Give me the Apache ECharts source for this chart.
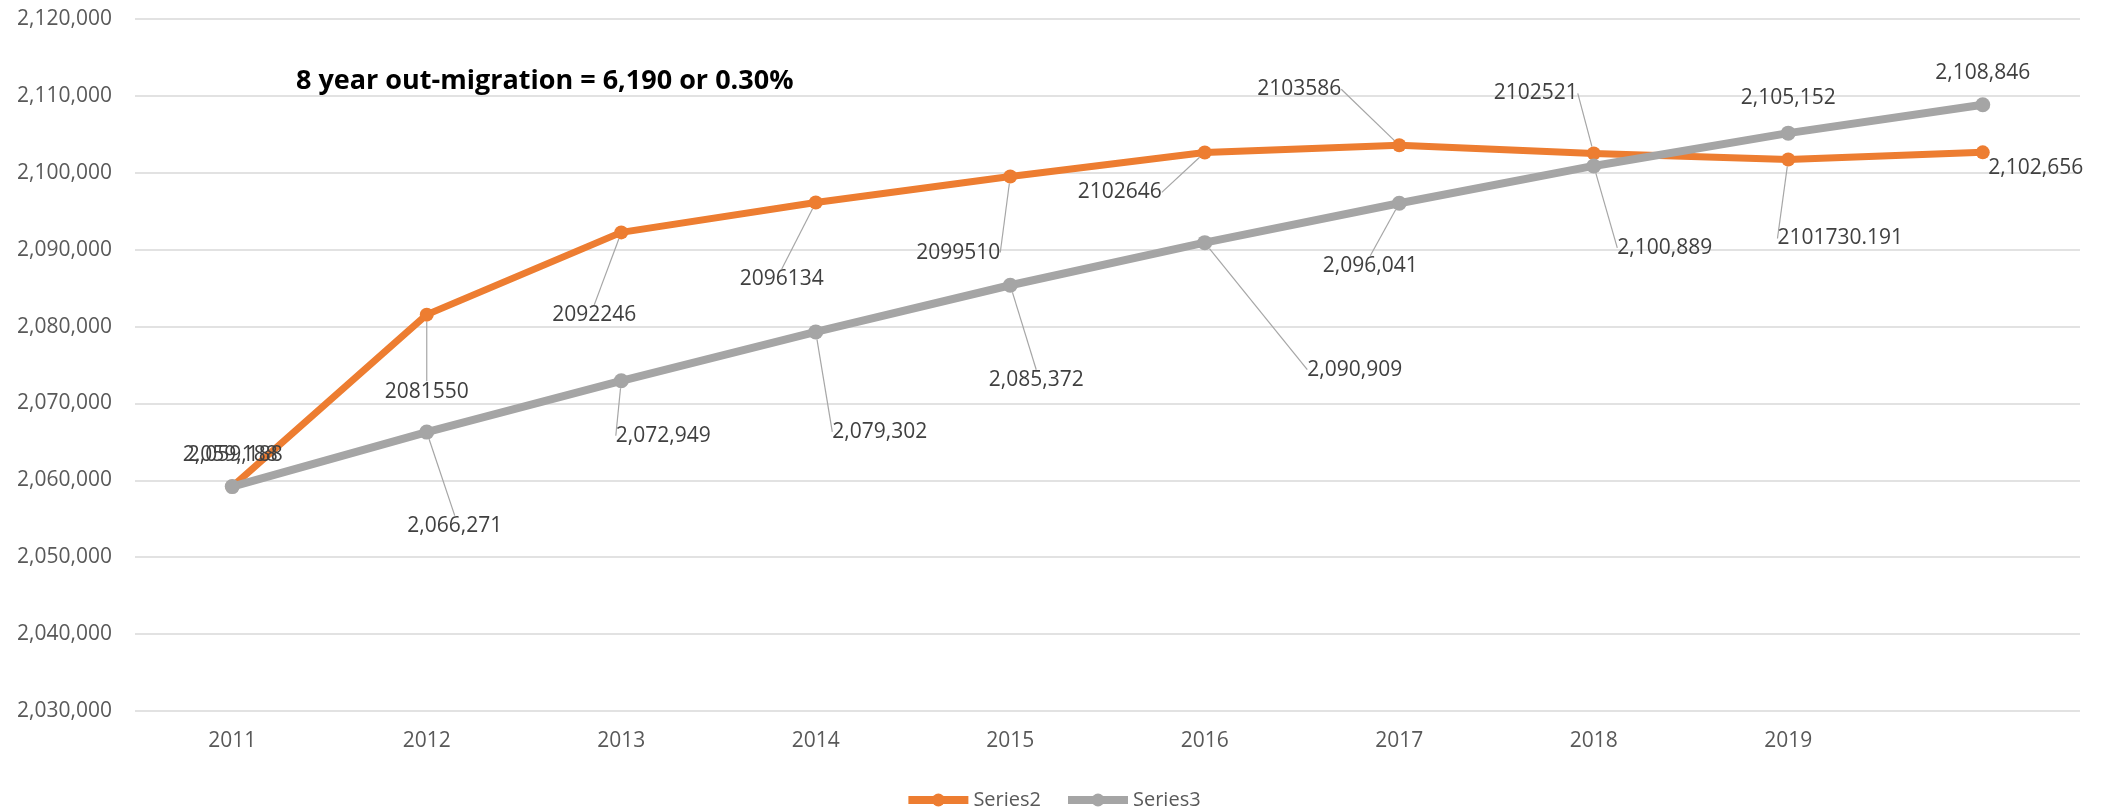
<!DOCTYPE html>
<html>
<head>
<meta charset="utf-8">
<script src="https://cdn.jsdelivr.net/npm/echarts@6/dist/echarts.min.js"></script>
<style>
html,body{margin:0;padding:0;background:#fff;}
#chart{width:2105px;height:808px;}
</style>
</head>
<body>
<div id="chart"></div>
<script>
var categories = ['2011','2012','2013','2014','2015','2016','2017','2018','2019',''];
var series2 = [2059188, 2081550, 2092246, 2096134, 2099510, 2102646, 2103586, 2102521, 2101730.191, 2102656];
var series3 = [2059188, 2066271, 2072949, 2079302, 2085372, 2090909, 2096041, 2100889, 2105152, 2108846];
var series2CommaLabel = [true, false, false, false, false, false, false, false, false, true];
var yTickMin = 2030000, yTickMax = 2120000, yTickStep = 10000;
var annotation = '8 year out-migration = 6,190 or 0.30%';

// label offsets (label centre relative to data point), style only
var s2Offsets = [[-2,-32],[0,77],[-27,83],[-34,77],[-52,76],[-85,40],[-100,-56],[-58,-60],[52,79],[53,16]];
var s3Offsets = [[3,-32],[28,94],[42,55],[64,100],[26,95],[150,127],[-29,63],[71,82],[0,-35],[0,-32]];
var noLeader2 = [0, 9];
var noLeader3 = [0, 8, 9];

function commas(v){ return String(v).replace(/\B(?=(\d{3})+(?!\d))/g, ','); }

var FONT = '"Open Sans", sans-serif';
var chart = echarts.init(document.getElementById('chart'));

function makeData(vals, noLeader){
  return vals.map(function(v, i){
    var d = {value: v};
    if (noLeader.indexOf(i) >= 0) d.labelLine = {show: false};
    return d;
  });
}

var option = {
  animation: false,
  backgroundColor: '#ffffff',
  title: {
    text: annotation,
    left: 291, top: 63,
    textStyle: {fontFamily: FONT, fontWeight: 'bold', fontSize: 27, color: '#000000'}
  },
  grid: {left: 135, right: 25, top: 19, bottom: 97, containLabel: false},
  legend: {
    top: 785, left: 'center',
    itemWidth: 60, itemHeight: 16, itemGap: 23,
    lineStyle: {width: 8},
    textStyle: {fontFamily: FONT, fontSize: 20, color: '#595959'},
    data: ['Series2', 'Series3']
  },
  xAxis: {
    type: 'category', data: categories, boundaryGap: true,
    axisLine: {show: false}, axisTick: {show: false},
    axisLabel: {fontFamily: FONT, fontSize: 21, color: '#595959', margin: 20}
  },
  yAxis: {
    type: 'value', min: yTickMin, max: yTickMax, interval: yTickStep,
    axisLine: {show: false}, axisTick: {show: false},
    axisLabel: {fontFamily: FONT, fontSize: 21, color: '#595959', margin: 23,
      formatter: function(v){ return commas(v); }},
    splitLine: {lineStyle: {color: '#d9d9d9', width: 1.5}}
  },
  series: [
    {
      name: 'Series2', type: 'line', data: makeData(series2, noLeader2),
      symbol: 'circle', symbolSize: 14,
      lineStyle: {color: '#ED7D31', width: 7},
      itemStyle: {color: '#ED7D31'},
      label: {show: true, position: 'inside', fontFamily: FONT, fontSize: 21, color: '#404040',
        formatter: function(p){ return series2CommaLabel[p.dataIndex] ? commas(p.value) : String(p.value); }},
      labelLine: {show: true, lineStyle: {color: '#a6a6a6', width: 1.2}},
      labelLayout: function(p){ var o = s2Offsets[p.dataIndex]; return {dx: o[0], dy: o[1]}; }
    },
    {
      name: 'Series3', type: 'line', data: makeData(series3, noLeader3),
      symbol: 'circle', symbolSize: 15,
      lineStyle: {color: '#A5A5A5', width: 8},
      itemStyle: {color: '#A5A5A5'},
      label: {show: true, position: 'inside', fontFamily: FONT, fontSize: 21, color: '#404040',
        formatter: function(p){ return commas(p.value); }},
      labelLine: {show: true, lineStyle: {color: '#a6a6a6', width: 1.2}},
      labelLayout: function(p){ var o = s3Offsets[p.dataIndex]; return {dx: o[0], dy: o[1]}; }
    }
  ]
};
chart.setOption(option);
</script>
</body>
</html>
